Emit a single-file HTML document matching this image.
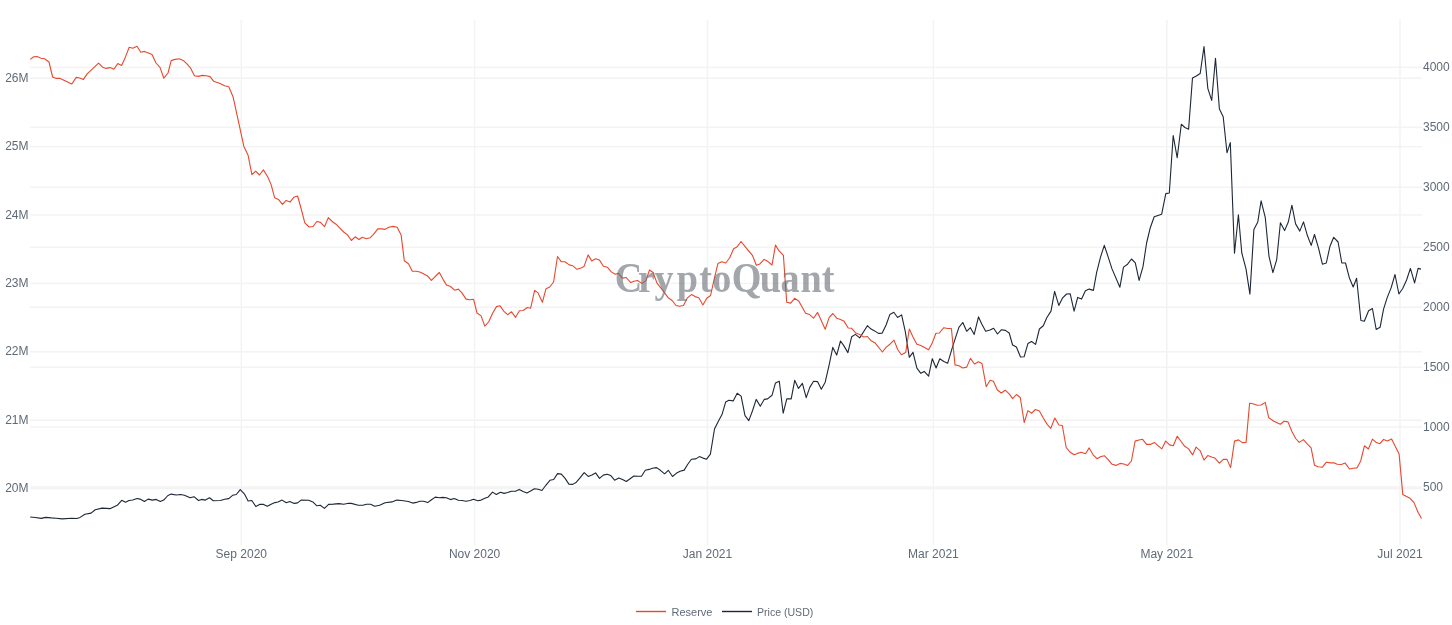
<!DOCTYPE html>
<html><head><meta charset="utf-8"><style>
html,body{margin:0;padding:0;background:#fff;}
body{width:1452px;height:625px;overflow:hidden;}
svg{display:block;will-change:transform;}
.t{font-family:"Liberation Sans",sans-serif;font-size:12px;fill:#606a76;}
.lg{font-family:"Liberation Sans",sans-serif;font-size:11px;fill:#606a76;}
.wm{font-family:"Liberation Serif",serif;font-weight:bold;font-size:42px;fill:#666d73;fill-opacity:0.6;}
</style></head><body>
<svg width="1452" height="625" viewBox="0 0 1452 625">
<rect width="1452" height="625" fill="#fff"/>
<g>
<rect x="30" y="77.45" width="1392" height="1.5" fill="#f3f3f3"/>
<rect x="30" y="145.85" width="1392" height="1.5" fill="#f3f3f3"/>
<rect x="30" y="214.25" width="1392" height="1.5" fill="#f3f3f3"/>
<rect x="30" y="282.65" width="1392" height="1.5" fill="#f3f3f3"/>
<rect x="30" y="351.05" width="1392" height="1.5" fill="#f3f3f3"/>
<rect x="30" y="419.45" width="1392" height="1.5" fill="#f3f3f3"/>
<rect x="30" y="487.85" width="1392" height="1.5" fill="#f3f3f3"/>
<rect x="30" y="66.65" width="1392" height="1.5" fill="#f3f3f3"/>
<rect x="30" y="126.60" width="1392" height="1.5" fill="#f3f3f3"/>
<rect x="30" y="186.55" width="1392" height="1.5" fill="#f3f3f3"/>
<rect x="30" y="246.50" width="1392" height="1.5" fill="#f3f3f3"/>
<rect x="30" y="306.45" width="1392" height="1.5" fill="#f3f3f3"/>
<rect x="30" y="366.40" width="1392" height="1.5" fill="#f3f3f3"/>
<rect x="30" y="426.25" width="1392" height="1.5" fill="#f3f3f3"/>
<rect x="30" y="486.30" width="1392" height="1.5" fill="#f3f3f3"/>
</g>
<rect x="240.55" y="20" width="1.5" height="525" fill="#f3f3f3"/>
<rect x="473.85" y="20" width="1.5" height="525" fill="#f3f3f3"/>
<rect x="706.75" y="20" width="1.5" height="525" fill="#f3f3f3"/>
<rect x="932.65" y="20" width="1.5" height="525" fill="#f3f3f3"/>
<rect x="1166.05" y="20" width="1.5" height="525" fill="#f3f3f3"/>
<rect x="1399.25" y="20" width="1.5" height="525" fill="#f3f3f3"/>
<g class="t">
<text x="28.5" y="81.70" text-anchor="end">26M</text>
<text x="28.5" y="150.10" text-anchor="end">25M</text>
<text x="28.5" y="218.50" text-anchor="end">24M</text>
<text x="28.5" y="286.90" text-anchor="end">23M</text>
<text x="28.5" y="355.30" text-anchor="end">22M</text>
<text x="28.5" y="423.70" text-anchor="end">21M</text>
<text x="28.5" y="492.10" text-anchor="end">20M</text>
<text x="1423" y="71.40">4000</text>
<text x="1423" y="131.35">3500</text>
<text x="1423" y="191.30">3000</text>
<text x="1423" y="251.25">2500</text>
<text x="1423" y="311.20">2000</text>
<text x="1423" y="371.15">1500</text>
<text x="1423" y="431.00">1000</text>
<text x="1423" y="491.05">500</text>
<text x="241.3" y="558" text-anchor="middle">Sep 2020</text>
<text x="474.6" y="558" text-anchor="middle">Nov 2020</text>
<text x="707.5" y="558" text-anchor="middle">Jan 2021</text>
<text x="933.4" y="558" text-anchor="middle">Mar 2021</text>
<text x="1166.8" y="558" text-anchor="middle">May 2021</text>
<text x="1400.0" y="558" text-anchor="middle">Jul 2021</text>
</g>
<polyline fill="none" stroke="#1d2736" stroke-width="1.1" stroke-linejoin="round" points="30.2,517.0 35.3,517.5 41.2,518.4 45.7,517.4 51.2,517.9 56.0,518.2 62.2,518.9 71.8,518.2 76.7,518.5 80.1,517.4 84.9,514.3 91.1,513.1 95.2,509.8 102.1,508.1 110.4,508.6 117.3,505.3 121.7,500.3 125.5,502.2 129.0,500.5 132.7,500.0 137.2,498.5 140.0,499.1 144.4,501.5 148.2,499.1 152.4,500.1 156.2,499.4 160.3,501.5 163.7,500.1 167.9,495.5 171.3,494.1 176.1,495.0 180.6,494.5 184.4,495.3 190.2,497.8 194.0,496.7 198.5,500.5 201.6,499.4 205.4,500.1 209.5,497.8 213.3,500.8 220.5,500.5 224.6,499.3 228.8,498.6 232.6,495.3 236.3,494.5 240.3,489.6 244.5,494.1 248.1,501.0 251.8,500.5 255.8,506.5 259.6,504.4 263.6,504.4 267.3,506.3 271.1,504.2 274.9,502.6 278.0,502.0 282.1,500.1 286.3,502.7 289.7,501.5 294.2,503.4 297.6,502.9 301.1,500.1 308.7,500.3 312.8,501.9 316.9,505.8 320.3,505.3 324.5,508.4 328.6,504.4 333.4,504.1 338.9,503.6 343.7,504.2 348.6,503.3 351.3,503.4 358.2,505.3 363.0,505.3 366.5,504.2 370.6,504.2 374.7,506.2 379.6,505.3 385.1,502.7 392.0,501.9 396.8,500.1 401.6,500.5 408.4,501.5 412.6,503.1 416.4,502.4 419.8,501.3 423.6,501.2 427.7,502.6 431.5,499.8 435.3,497.1 439.4,497.8 442.9,497.4 446.3,497.8 450.5,499.6 454.2,498.5 458.4,500.3 462.2,500.5 466.0,501.2 470.1,500.5 473.5,499.3 477.7,500.8 481.1,500.1 484.9,498.3 488.3,496.9 492.5,492.1 496.3,494.5 500.4,492.3 504.1,493.4 507.6,492.5 511.4,491.2 515.5,491.2 519.3,489.4 523.1,491.5 526.9,492.9 530.6,491.0 534.4,488.8 538.2,489.2 542.0,490.5 545.8,485.3 549.9,480.3 553.7,479.5 557.5,473.6 561.3,474.1 565.1,478.4 568.9,484.1 572.7,484.4 576.4,482.2 580.2,477.7 584.2,472.7 588.2,476.4 591.9,475.0 595.6,472.9 599.5,478.4 603.3,475.1 607.1,474.2 610.8,475.6 614.6,480.2 618.8,477.9 622.5,479.6 626.3,481.5 630.1,478.8 633.9,476.0 637.7,476.3 641.5,476.2 645.3,470.3 649.1,469.4 652.5,468.3 656.6,467.6 660.4,470.3 664.6,473.8 668.3,470.3 672.5,476.5 676.3,473.3 680.1,471.3 684.2,470.1 687.6,464.5 691.4,459.3 695.8,458.9 699.4,456.6 703.0,458.1 706.6,459.2 710.4,454.2 714.5,429.0 718.1,421.8 722.0,414.6 725.7,401.9 728.9,400.2 733.2,400.9 737.2,393.2 741.1,396.1 745.0,415.7 748.8,420.6 752.6,410.5 756.2,399.4 760.3,406.2 764.2,399.4 767.6,398.9 772.0,395.3 775.5,382.9 779.3,381.2 783.2,413.2 786.8,398.9 791.2,398.9 794.7,380.3 798.5,388.4 802.4,383.3 806.2,397.6 809.8,387.4 813.6,381.2 817.5,381.6 821.3,389.3 825.2,382.2 829.0,365.6 832.8,347.4 836.7,355.1 840.5,341.0 843.8,345.6 847.9,352.6 851.7,336.7 855.4,334.4 859.7,337.9 867.4,325.7 870.7,328.8 874.6,330.9 878.4,333.4 882.2,333.1 886.1,325.0 889.9,314.4 893.8,312.3 897.6,317.5 901.6,314.9 905.3,331.7 909.3,357.3 913.0,352.3 916.9,368.2 920.8,373.3 924.2,371.4 928.6,376.1 932.3,358.7 936.1,368.0 939.8,358.7 943.8,361.5 947.7,363.2 952.7,346.4 958.9,327.4 962.8,322.5 966.7,331.3 970.4,327.7 974.2,334.4 978.5,316.9 982.0,324.6 985.7,331.3 990.0,330.0 993.6,328.2 997.5,334.0 1001.5,329.7 1005.4,330.4 1009.2,333.0 1012.6,345.0 1016.4,347.0 1020.5,357.0 1024.1,356.8 1027.9,343.6 1031.5,341.5 1035.6,344.4 1039.4,329.0 1043.3,325.8 1046.9,317.5 1051.0,311.1 1054.6,291.4 1058.8,305.4 1062.4,298.2 1066.6,294.0 1070.2,293.8 1074.1,311.1 1077.7,297.4 1081.6,299.1 1085.4,290.7 1089.2,289.1 1093.4,290.4 1096.6,272.7 1100.5,257.1 1104.3,245.3 1108.2,257.1 1112.0,268.9 1119.9,287.2 1123.5,267.1 1127.6,264.2 1131.5,259.0 1135.3,262.9 1139.1,280.4 1143.0,266.7 1146.6,243.0 1150.1,228.3 1154.2,216.8 1161.7,214.2 1165.8,193.6 1169.3,193.0 1173.2,135.5 1177.2,157.8 1181.3,124.2 1184.9,127.5 1188.6,129.2 1192.5,77.9 1196.3,76.0 1200.2,73.5 1204.0,46.6 1207.8,88.3 1211.7,100.4 1215.5,58.2 1219.4,109.0 1223.2,116.7 1227.0,152.8 1230.3,142.6 1234.5,253.3 1238.4,214.8 1241.8,253.0 1246.0,268.9 1249.9,294.1 1253.9,229.4 1257.8,221.9 1261.1,200.9 1265.3,217.7 1269.0,256.3 1272.9,272.6 1276.7,259.7 1280.4,222.7 1284.6,230.6 1288.3,222.0 1291.9,205.2 1295.6,223.9 1299.8,231.1 1303.5,221.9 1307.3,235.3 1311.2,245.4 1314.5,234.5 1318.6,248.4 1322.4,264.2 1326.3,263.0 1330.0,246.2 1333.7,237.3 1338.1,242.0 1341.8,263.0 1345.5,263.0 1349.3,277.7 1353.2,287.0 1356.6,278.2 1360.9,320.5 1364.3,321.3 1368.6,310.7 1372.4,308.5 1376.2,329.5 1380.1,327.3 1383.5,309.4 1387.1,297.9 1391.2,287.6 1395.0,274.5 1398.9,294.0 1402.7,288.5 1406.6,280.0 1410.4,268.4 1414.6,282.9 1418.1,268.4 1421.0,269.1"/>
<polyline fill="none" stroke="#e6492f" stroke-width="1.1" stroke-linejoin="round" points="30.2,59.4 33.8,56.8 37.0,56.6 41.0,58.2 44.6,58.8 49.0,62.0 52.6,77.0 56.2,78.4 60.2,78.4 71.8,84.0 76.2,77.4 79.8,78.0 83.4,79.4 87.4,73.6 98.6,63.2 102.6,67.2 106.2,68.4 110.2,67.6 113.8,69.2 117.8,63.6 121.6,65.4 124.8,58.6 129.2,47.2 132.8,48.2 137.0,46.2 140.8,52.2 144.4,51.4 148.4,53.0 152.0,54.6 156.0,63.0 160.0,67.4 163.8,78.2 168.0,73.0 171.2,60.6 175.2,59.4 179.2,58.8 183.2,60.4 187.2,64.2 190.4,67.8 194.4,75.8 198.4,76.4 202.4,75.4 206.4,75.8 210.0,76.6 213.6,81.2 220.0,83.4 224.6,85.8 228.8,86.7 233.2,97.3 243.8,146.2 248.0,154.9 251.9,174.7 255.7,171.2 259.5,175.0 263.4,169.9 267.8,177.0 271.1,184.6 274.6,197.7 278.4,199.4 282.5,204.4 286.1,200.4 290.0,202.1 293.8,197.3 297.6,196.0 301.5,210.0 304.8,222.9 309.1,227.0 313.0,226.5 316.8,221.5 320.5,222.4 324.5,226.7 328.3,217.6 332.2,221.5 336.0,224.2 339.9,228.2 343.7,232.0 347.5,234.9 351.4,240.5 355.2,236.8 359.0,239.5 362.4,237.3 366.2,238.7 370.1,237.8 373.9,233.9 377.8,228.8 381.6,228.9 385.1,229.4 388.8,227.2 393.1,226.4 397.2,227.2 401.1,234.9 404.3,260.8 408.5,263.7 412.3,271.3 416.6,271.3 420.5,272.3 427.2,275.7 431.4,280.4 439.3,272.5 443.2,279.6 446.6,285.1 450.5,286.5 454.6,290.2 458.3,289.1 461.9,292.9 466.1,299.1 469.7,299.8 473.6,299.3 477.0,313.0 481.1,315.9 484.8,326.1 488.6,322.0 492.6,313.3 496.5,306.6 499.8,305.7 504.0,311.3 507.6,314.7 511.5,311.8 515.6,317.3 519.4,310.7 523.2,310.5 527.3,307.5 530.6,308.3 534.6,290.4 538.1,292.9 542.4,302.3 546.0,288.7 549.7,287.0 553.6,282.0 557.5,256.5 561.4,261.8 564.8,261.8 569.3,264.9 572.6,265.7 576.9,269.3 581.0,268.0 584.0,266.6 588.1,254.9 591.7,260.9 595.6,258.7 599.5,260.1 603.4,266.3 607.3,267.2 611.3,271.9 615.2,274.3 618.4,273.4 622.3,278.1 626.2,277.5 630.7,282.6 634.0,281.2 637.4,280.5 641.9,283.4 645.8,280.9 649.5,270.0 653.1,272.5 657.0,283.1 662.0,289.3 668.2,297.7 672.1,300.5 676.0,305.5 679.4,306.3 683.5,305.5 687.2,298.2 691.4,294.6 695.1,296.6 698.8,297.7 702.9,305.0 706.8,298.2 710.6,295.5 714.0,279.8 717.9,263.6 721.8,261.7 725.7,263.0 729.6,258.0 733.6,248.7 736.9,247.1 741.1,241.5 745.3,246.8 752.6,255.7 756.3,265.2 759.9,263.9 764.1,259.4 767.7,261.3 772.0,265.0 775.5,245.1 778.9,250.7 783.4,255.4 786.7,302.2 790.7,303.1 794.6,298.3 798.9,301.2 805.6,313.3 809.6,314.6 813.5,318.2 817.6,312.4 825.2,329.2 829.2,317.4 832.9,313.5 836.7,318.2 839.8,319.3 843.8,320.9 848.2,328.0 851.7,328.3 855.8,333.1 859.7,334.4 863.5,337.0 867.4,336.5 871.2,340.8 874.8,342.7 882.4,352.0 886.3,347.1 889.9,344.2 894.0,340.1 897.8,349.8 901.4,354.8 905.7,352.6 909.3,329.0 913.0,336.9 916.9,344.2 920.8,345.6 928.6,349.8 932.0,343.6 935.9,333.3 939.3,333.0 943.8,327.7 947.7,328.5 951.4,328.5 955.0,364.9 958.9,365.8 962.8,368.0 966.7,367.1 970.4,358.4 974.5,364.0 978.5,361.7 982.0,363.5 986.2,386.7 990.1,380.2 993.4,381.3 997.4,390.0 1001.3,393.0 1005.2,390.2 1008.9,393.6 1012.7,398.6 1016.4,394.5 1020.3,397.5 1024.2,422.5 1027.9,410.6 1031.7,413.2 1035.4,409.5 1039.4,411.0 1043.3,418.0 1047.2,424.4 1050.8,428.3 1054.8,418.0 1058.9,425.0 1062.3,425.5 1066.2,447.5 1069.6,451.7 1074.0,454.8 1077.4,453.4 1081.3,452.3 1085.5,453.7 1089.2,447.9 1093.1,454.8 1097.0,458.7 1100.4,456.8 1104.3,455.7 1108.2,459.6 1112.1,464.3 1116.0,465.4 1120.0,463.4 1123.9,464.0 1127.6,465.4 1131.4,461.0 1135.1,441.1 1139.0,440.0 1142.6,439.3 1146.6,444.4 1150.4,444.4 1154.3,442.4 1161.8,448.9 1165.7,441.1 1169.6,444.9 1173.3,445.8 1177.2,436.2 1181.1,441.5 1184.7,446.3 1188.6,448.9 1192.6,454.9 1196.1,447.1 1200.2,450.8 1204.0,460.1 1207.7,455.6 1211.6,457.0 1214.9,458.1 1219.4,463.1 1223.3,459.4 1227.0,459.4 1230.6,467.6 1234.5,441.1 1238.5,439.9 1242.4,442.6 1246.1,442.4 1249.6,403.3 1252.8,403.7 1257.3,405.2 1261.1,405.0 1265.2,402.4 1268.8,417.8 1273.9,421.2 1280.3,424.2 1284.2,421.2 1288.0,421.9 1291.9,431.5 1295.7,438.5 1299.2,442.4 1303.4,439.6 1307.2,443.9 1311.1,447.8 1314.5,465.2 1318.1,466.7 1322.2,467.3 1326.4,462.2 1330.9,462.9 1334.5,462.9 1337.2,464.2 1341.2,464.5 1345.2,463.1 1349.5,469.0 1353.2,468.2 1356.9,467.9 1360.7,461.0 1364.4,445.8 1368.4,449.0 1372.4,439.1 1376.4,442.6 1379.9,443.7 1383.6,439.4 1387.3,441.0 1391.6,439.1 1399.1,454.1 1402.8,494.6 1410.0,498.3 1414.0,502.6 1418.0,512.2 1421.5,518.6"/>
<text class="wm" transform="translate(614.8,291.5) scale(0.909,1)" x="0" y="0" dx="0 -4.84 -0.33 3.41 1.32 0.44 0.44 -1.98 -0.44 0.99 0">CryptoQuant</text>
<line x1="636" y1="611.5" x2="666" y2="611.5" stroke="#e6492f" stroke-width="1.4"/>
<text class="lg" x="671.5" y="615.5">Reserve</text>
<line x1="722" y1="611.5" x2="752" y2="611.5" stroke="#1d2736" stroke-width="1.4"/>
<text class="lg" x="757" y="615.5" textLength="56.3" lengthAdjust="spacingAndGlyphs">Price (USD)</text>
</svg>
</body></html>
